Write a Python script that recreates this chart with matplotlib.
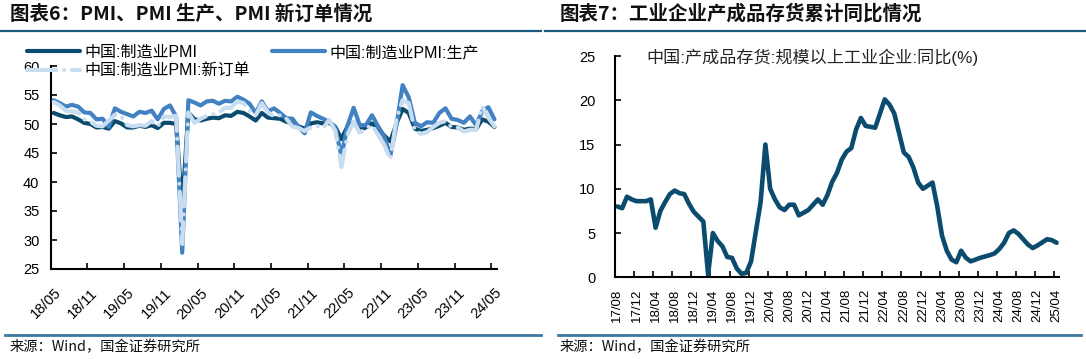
import numpy as np
import pandas as pd
import matplotlib
matplotlib.use("Agg")
import matplotlib.pyplot as plt
from matplotlib.lines import Line2D

plt.rcParams['font.family'] = ['Liberation Sans', 'Noto Sans CJK SC', 'DejaVu Sans']
plt.rcParams['axes.unicode_minus'] = False

# ---------------- data: left chart (PMI) ----------------
left_months = pd.period_range('2018-05', '2024-05', freq='M')
pmi = [51.9, 51.5, 51.2, 51.3, 50.8, 50.2, 50.0, 49.4,
       49.5, 49.2, 50.5, 50.1, 49.4, 49.4, 49.7, 49.5, 49.8, 49.3, 50.2, 50.2,
       50.0, 35.7, 52.0, 50.8, 50.6, 50.9, 51.1, 51.0, 51.5, 51.4, 52.1, 51.9,
       51.3, 50.6, 51.9, 51.1, 51.0, 50.9, 50.4, 50.1, 49.6, 49.2, 50.1, 50.3,
       50.1, 50.2, 49.5, 47.4, 49.6, 50.2, 49.0, 49.4, 50.1, 49.2, 48.0, 47.0,
       50.1, 52.6, 51.9, 49.2, 48.8, 49.0, 49.3, 49.7, 50.2, 49.5, 49.4, 49.0,
       49.2, 49.1, 50.8, 50.4, 49.5]
pmi_prod = [54.1, 53.6, 53.0, 53.3, 53.0, 52.0, 51.9, 50.8,
            50.9, 49.5, 52.7, 52.1, 51.7, 51.3, 52.1, 51.9, 52.3, 50.8, 52.6, 53.2,
            51.3, 27.8, 54.1, 53.7, 53.2, 53.9, 54.0, 53.5, 54.0, 53.9, 54.7, 54.2,
            53.5, 51.9, 53.9, 52.2, 52.7, 51.9, 51.0, 50.9, 49.5, 48.4, 52.0, 51.4,
            50.9, 50.4, 49.5, 44.4, 49.7, 52.8, 49.8, 49.8, 51.5, 49.6, 47.8, 44.6,
            49.8, 56.7, 54.6, 50.2, 49.6, 50.3, 50.2, 51.9, 52.7, 50.9, 50.7, 50.2,
            51.3, 49.8, 52.2, 52.9, 50.8]
pmi_neworder = [53.8, 53.2, 52.3, 52.2, 52.0, 50.8, 50.4, 49.7,
                49.6, 50.6, 51.6, 51.4, 49.8, 49.6, 49.8, 49.7, 50.5, 49.6, 51.3, 51.2,
                51.4, 29.3, 52.0, 50.2, 50.9, 51.4, 51.7, 52.0, 52.8, 52.8, 53.9, 53.6,
                52.3, 51.5, 53.6, 52.0, 51.3, 51.5, 50.9, 49.6, 49.3, 48.8, 49.4, 49.7,
                49.3, 50.7, 48.8, 42.6, 48.2, 50.4, 48.5, 49.2, 49.8, 48.1, 46.4, 43.9,
                50.9, 54.1, 53.6, 48.8, 48.3, 48.6, 49.5, 50.2, 50.5, 49.5, 49.4, 48.7,
                49.0, 49.0, 53.0, 51.1, 49.6]
left_labels = ['中国:制造业PMI', '中国:制造业PMI:生产', '中国:制造业PMI:新订单']
left_ticklabels = ['18/05', '18/11', '19/05', '19/11', '20/05', '20/11', '21/05',
                   '21/11', '22/05', '22/11', '23/05', '23/11', '24/05']
left_yticks = [25, 30, 35, 40, 45, 50, 55, 60]

# ---------------- data: right chart (inventory yoy) ----------------
right_months = pd.period_range('2017-08', '2025-04', freq='M')
inventory_yoy = [8.0, 7.8, 9.1, 8.8, 8.6,
                 None, 8.6, 8.8, 5.6, 7.5, 8.5, 9.4, 9.8, 9.5, 9.4, 8.3, 7.4,
                 None, 6.3, 0.3, 5.0, 4.1, 3.5, 2.3, 2.2, 1.0, 0.4, 0.5, 1.8,
                 None, 8.5, 15.0, 10.0, 8.8, 7.9, 7.6, 8.2, 8.2, 7.0, 7.3, 7.6,
                 None, 8.8, 8.2, 9.3, 10.8, 11.8, 13.3, 14.2, 14.6, 16.7, 18.0, 17.1,
                 None, 16.9, 18.5, 20.1, 19.5, 18.5, 16.3, 14.1, 13.6, 12.4, 10.7, 10.0,
                 None, 10.7, 8.0, 4.7, 3.0, 2.0, 1.7, 3.0, 2.2, 1.8, 2.0, 2.2,
                 None, 2.5, 2.7, 3.2, 3.9, 5.0, 5.3, 4.9, 4.3, 3.7, 3.3, 3.6,
                 None, 4.3, 4.2, 3.9]
right_label = '中国:产成品存货:规模以上工业企业:同比(%)'
right_ticklabels = ['17/08', '17/12', '18/04', '18/08', '18/12', '19/04', '19/08',
                    '19/12', '20/04', '20/08', '20/12', '21/04', '21/08', '21/12',
                    '22/04', '22/08', '22/12', '23/04', '23/08', '23/12', '24/04',
                    '24/08', '24/12', '25/04']
right_yticks = [0, 5, 10, 15, 20, 25]

title_left = '图表6：PMI、PMI 生产、PMI 新订单情况'
title_right = '图表7：工业企业产成品存货累计同比情况'
source_text = '来源：Wind，国金证券研究所'

# ---------------- styles ----------------
DARK = '#0B4B6E'
MID = '#4382C2'
LIGHT = '#C9DDF1'
W, H = 1086, 359

fig = plt.figure(figsize=(W / 100, H / 100), dpi=100)

def fx(px):
    return px / W

def fy(py):
    return 1 - py / H

# titles and separator lines
fig.text(fx(10), fy(14), title_left, fontsize=14, fontweight='bold',
         family=['Noto Sans CJK SC', 'DejaVu Sans'], ha='left', va='center', color='#111111')
fig.text(fx(560), fy(14), title_right, fontsize=14, fontweight='bold',
         family=['Noto Sans CJK SC', 'DejaVu Sans'], ha='left', va='center', color='#111111')
for x0, x1 in [(0, 541), (545, 1086)]:
    fig.add_artist(Line2D([fx(x0), fx(x1)], [fy(30.7), fy(30.7)], color='#1D5A7F', lw=1.6))
for x0, x1 in [(5, 541), (558, 1081)]:
    fig.add_artist(Line2D([fx(x0), fx(x1)], [fy(335.3), fy(335.3)], color='#3B79A0', lw=2.0))
fig.text(fx(10), fy(347), source_text, fontsize=10.3, family=['Noto Sans CJK SC', 'DejaVu Sans'],
         ha='left', va='center', color='#111111')
fig.text(fx(560), fy(347), source_text, fontsize=10.3, family=['Noto Sans CJK SC', 'DejaVu Sans'],
         ha='left', va='center', color='#111111')

# ---------------- left chart ----------------
ax1 = fig.add_axes([fx(50.6), fy(269), fx(497.5) - fx(50.6), fy(66) - fy(269)])
xl = np.arange(len(left_months))
l_pmi, = ax1.plot(xl, pmi, color=DARK, lw=3.0, solid_capstyle='round', solid_joinstyle='round', zorder=2)
l_prod, = ax1.plot(xl, pmi_prod, color=MID, lw=3.0, solid_capstyle='round', solid_joinstyle='round', zorder=3)
l_no, = ax1.plot(xl, pmi_neworder, color=LIGHT, lw=3.0, dash_capstyle='round', dash_joinstyle='round',
                 dashes=(7.0, 1.9, 0.01, 1.9), zorder=4)
ax1.set_xlim(-0.5, len(left_months) - 0.5)
ax1.set_ylim(25, 60)
ax1.set_yticks(left_yticks)
ax1.set_xticks(np.arange(0, len(left_months), 6) - 0.5)
ax1.set_xticklabels([])
ax1.set_xticks(np.arange(0, len(left_months), 6), minor=True)
ax1.set_xticklabels(left_ticklabels, minor=True, rotation=45, ha='right', va='top',
                    rotation_mode='anchor')
ax1.tick_params(axis='x', which='major', direction='in', length=4, width=1.2)
ax1.tick_params(axis='x', which='minor', length=0, pad=12, labelsize=10.5)
ax1.tick_params(axis='y', direction='in', length=4, width=1.2, pad=8, labelsize=10.5)
for s in ['top', 'right']:
    ax1.spines[s].set_visible(False)
for s in ['left', 'bottom']:
    ax1.spines[s].set_linewidth(1.5)

fig.legend([l_pmi, l_no, l_prod], [left_labels[0], left_labels[2], left_labels[1]],
           ncol=2, loc='upper left', bbox_to_anchor=(fx(27), fy(45)), frameon=False,
           fontsize=11.5, handlelength=3.3, handletextpad=0.3, columnspacing=1.4,
           labelspacing=0.25, borderpad=0, borderaxespad=0)

# ---------------- right chart ----------------
ax2 = fig.add_axes([fx(615), fy(277.3), fx(1059) - fx(615), fy(56) - fy(277.3)])
xr = np.arange(len(right_months))
yr = np.array([np.nan if v is None else v for v in inventory_yoy], dtype=float)
valid = ~np.isnan(yr)
ax2.plot(xr[valid], yr[valid], color=DARK, lw=3.3, solid_capstyle='round', solid_joinstyle='round')
ax2.set_xlim(-0.5, len(right_months) - 0.5)
ax2.set_ylim(0, 25)
ax2.set_yticks(right_yticks)
ax2.set_xticks(np.arange(0, len(right_months), 4) - 0.5)
ax2.set_xticklabels([])
ax2.set_xticks(np.arange(0, len(right_months), 4), minor=True)
ax2.set_xticklabels(right_ticklabels, minor=True, rotation=90, ha='center', va='top')
ax2.tick_params(axis='x', which='major', direction='in', length=4, width=1.2)
ax2.tick_params(axis='x', which='minor', length=0, pad=8, labelsize=9.5)
ax2.tick_params(axis='y', direction='in', length=4, width=1.2, pad=14, labelsize=10.5)
for s in ['top', 'right']:
    ax2.spines[s].set_visible(False)
for s in ['left', 'bottom']:
    ax2.spines[s].set_linewidth(1.5)
fig.text(fx(646.7), fy(57), right_label, fontsize=12.3, ha='left', va='center', color='#222222')

fig.savefig('out.png', dpi=100)
